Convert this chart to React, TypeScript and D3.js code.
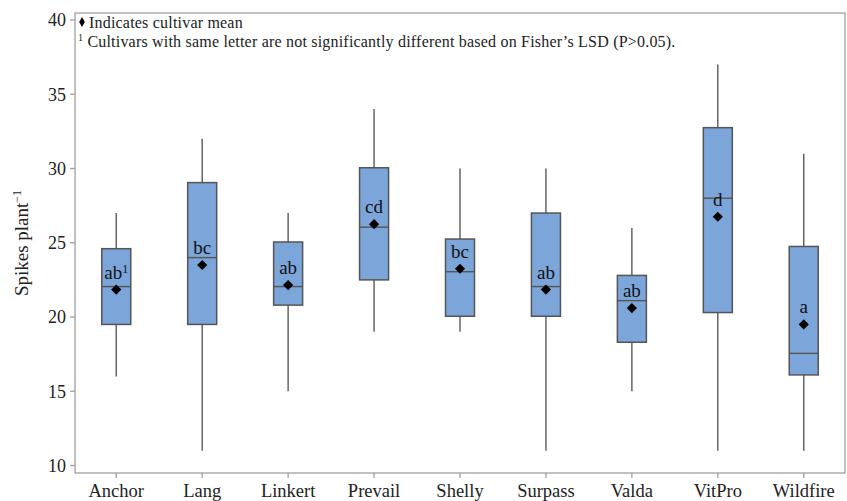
import React from "react";
import * as d3 from "d3";

const cultivars = ["Anchor", "Lang", "Linkert", "Prevail", "Shelly", "Surpass", "Valda", "VitPro", "Wildfire"];
const whiskerLow = [16, 11, 15, 19, 19, 11, 15, 11, 11];
const quartile1 = [19.5, 19.5, 20.8, 22.5, 20.05, 20.05, 18.3, 20.3, 16.1];
const medians = [22.05, 24, 22.05, 26.05, 23.05, 22.05, 21.1, 28, 17.55];
const quartile3 = [24.6, 29.05, 25.05, 30.05, 25.25, 27, 22.8, 32.75, 24.75];
const whiskerHigh = [27, 32, 27, 34, 30, 30, 26, 37, 31];
const means = [21.85, 23.5, 22.15, 26.25, 23.25, 21.85, 20.6, 26.75, 19.5];
const letters = ["ab", "bc", "ab", "cd", "bc", "ab", "ab", "d", "a"];
const yTicks = [10, 15, 20, 25, 30, 35, 40];

const W = 847;
const H = 501;
const frame = { left: 75, right: 845, top: 13, bottom: 473 };
const serif = "'Liberation Serif', 'Times New Roman', serif";

export default function App() {
  const x = d3.scalePoint<string>().domain(cultivars).range([frame.left, frame.right]).padding(0.48);
  const y = d3.scaleLinear().domain([10, 40]).range([465.5, 20]);
  const boxW = 29;
  // mean marker: a square turned 45°
  const diamond = d3.symbol().type(d3.symbolSquare).size(52)() as string;
  const legendDiamond = d3.symbol().type(d3.symbolDiamond).size(28)() as string;

  return (
    <svg width={W} height={H} style={{ position: "absolute", left: 0, top: 0 }} fontFamily={serif}>
      <rect width={W} height={H} fill="#fff" />
      {/* plot frame */}
      <rect
        x={frame.left}
        y={frame.top}
        width={frame.right - frame.left}
        height={frame.bottom - frame.top}
        fill="none"
        stroke="#a0a0a0"
        strokeWidth={1.3}
      />
      {/* y axis ticks */}
      {yTicks.map((t) => (
        <g key={t}>
          <line x1={frame.left - 5} x2={frame.left} y1={y(t)} y2={y(t)} stroke="#a0a0a0" strokeWidth={1.3} />
          <text x={frame.left - 9} y={y(t)} dy="0.35em" textAnchor="end" fontSize={18} fill="#222">
            {t}
          </text>
        </g>
      ))}
      {/* x axis ticks and labels */}
      {cultivars.map((c) => (
        <g key={c}>
          <line x1={x(c)} x2={x(c)} y1={frame.bottom} y2={frame.bottom + 5} stroke="#a0a0a0" strokeWidth={1.3} />
          <text x={x(c)} y={497} textAnchor="middle" fontSize={18.5} fill="#222">
            {c}
          </text>
        </g>
      ))}
      {/* y axis title */}
      <text transform="translate(28,243) rotate(-90)" textAnchor="middle" fontSize={19} fill="#222">
        Spikes plant
        <tspan dy={-7} fontSize={12}>−1</tspan>
      </text>
      {/* legend notes */}
      <path d={legendDiamond} transform="translate(82,22)" fill="#000" />
      <text x={89} y={28} fontSize={16} letterSpacing={0.2} fill="#222">
        Indicates cultivar mean
      </text>
      <text x={78} y={47} fontSize={16} letterSpacing={0.2} fill="#222">
        <tspan fontSize={10} dy={-6}>1</tspan>
        <tspan dy={6}> Cultivars with same letter are not significantly different based on Fisher’s LSD (P&gt;0.05).</tspan>
      </text>
      {/* boxes */}
      {cultivars.map((c, i) => {
        const cx = x(c) as number;
        return (
          <g key={c}>
            <line x1={cx} x2={cx} y1={y(whiskerHigh[i])} y2={y(quartile3[i])} stroke="#5a5a5a" strokeWidth={1.4} />
            <line x1={cx} x2={cx} y1={y(quartile1[i])} y2={y(whiskerLow[i])} stroke="#5a5a5a" strokeWidth={1.4} />
            <rect
              x={cx - boxW / 2}
              y={y(quartile3[i])}
              width={boxW}
              height={y(quartile1[i]) - y(quartile3[i])}
              fill="#7ca6d9"
              stroke="#555"
              strokeWidth={1.5}
            />
            <line
              x1={cx - boxW / 2}
              x2={cx + boxW / 2}
              y1={y(medians[i])}
              y2={y(medians[i])}
              stroke="#555"
              strokeWidth={1.4}
            />
            <path d={diamond} transform={`translate(${cx},${y(means[i])}) rotate(45)`} fill="#000" />
            <text x={cx} y={y(means[i]) - 11} textAnchor="middle" fontSize={19} fill="#111">
              {letters[i]}
              {i === 0 && (
                <tspan fontSize={12} dy={-6}>
                  1
                </tspan>
              )}
            </text>
          </g>
        );
      })}
    </svg>
  );
}
